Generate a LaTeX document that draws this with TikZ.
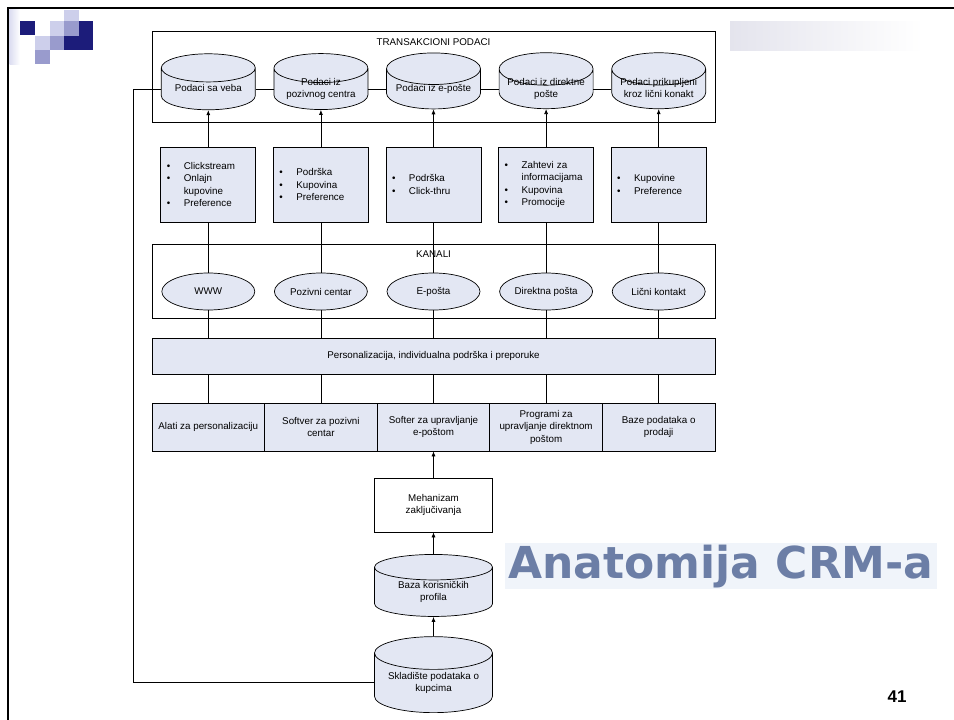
\documentclass[tikz,border=0pt]{standalone}
\usepackage{fontspec}
\setmainfont{Liberation Sans}
\newfontfamily\titlefont{DejaVu Sans}
\usetikzlibrary{shapes.geometric}
\usetikzlibrary{arrows.meta}
\usetikzlibrary{positioning}

\definecolor{boxfill}{RGB}{227,231,243}
\definecolor{navy}{RGB}{28,28,122}
\definecolor{lavmid}{RGB}{153,155,205}
\definecolor{lavlight}{RGB}{205,207,235}
\definecolor{titleblue}{RGB}{108,126,166}
\definecolor{titlebg}{RGB}{240,244,250}
\definecolor{bargray}{RGB}{228,228,237}

\newcommand{\bitem}[1]{\makebox[17pt][l]{\textbullet}#1}
\newcommand{\bcont}[1]{\hspace*{17pt}#1}
\newcommand{\dbtext}[1]{\smash{\raisebox{-2.5pt}{\begin{tabular}{@{}c@{}}#1\end{tabular}}}}

\begin{document}
\begin{tikzpicture}[x=1pt, y=-1pt, line width=0.7pt, node distance=112.6pt,
    every node/.style={font=\fontsize{9.8}{12.5}\selectfont},
    group/.style={rectangle, draw, minimum width=563pt},
    db/.style={cylinder, shape border rotate=90, aspect=0.42, draw, fill=boxfill,
      minimum width=94pt, minimum height=56pt, inner sep=0pt},
    info/.style={rectangle, draw, fill=boxfill, minimum width=95pt, minimum height=75pt,
      text width=83pt, align=left, inner xsep=6pt, inner ysep=4pt},
    chan/.style={ellipse, draw, fill=boxfill, minimum width=93pt, minimum height=37pt, inner sep=1pt},
    cell/.style={rectangle, draw, fill=boxfill, minimum width=112.6pt, minimum height=48pt,
      align=center, inner sep=2pt},
    proc/.style={rectangle, draw, fill=white, minimum width=118pt, minimum height=54pt, align=center},
    flow/.style={-{Latex[length=5pt,width=4pt]}}]
  \useasboundingbox (0,0) rectangle (954,720);

  % slide frame and logo
  \draw[line width=2.5pt] (8,720) -- (8,8) -- (954,8);
  \shade[left color=lavlight!70, right color=white] (9.5,9.5) rectangle (20,64);
  \fill[lavlight] (64,9.5) rectangle (79,21);
  \fill[navy] (20,21) rectangle (35,35);
  \fill[lavlight] (50,21) rectangle (64,36);
  \fill[lavmid] (64,21) rectangle (79,36);
  \fill[navy] (79,21) rectangle (93,50);
  \fill[lavlight] (35,36) rectangle (50,50);
  \fill[lavmid] (50,36) rectangle (64,50);
  \fill[navy] (64,36) rectangle (79,50);
  \fill[lavmid] (35,50) rectangle (50,64);
  \shade[left color=bargray, right color=white] (730,21) rectangle (923,50);

  % transakcioni podaci
  \node[group, minimum height=91pt] (trans) at (433.5,76.5) {};
  \node (transt) at (433.5,42) {TRANSAKCIONI PODACI};
  \node[db] (d1) at (208.3,89) {\dbtext{Podaci sa veba}};
  \node[db] (d2) [right of=d1] {\dbtext{Podaci iz\\pozivnog centra}};
  \node[db] (d3) [right of=d2] {\dbtext{Podaci iz e-pošte}};
  \node[db] (d4) [right of=d3] {\dbtext{Podaci iz direktne\\pošte}};
  \node[db] (d5) [right of=d4] {\dbtext{Podaci prikupljeni\\kroz lični konakt}};

  % sadrzaj
  \node[info] (i1) at (208.3,184.5) {\bitem{Clickstream}\\\bitem{Onlajn}\\\bcont{kupovine}\\\bitem{Preference}};
  \node[info] (i2) [right of=i1] {\bitem{Podrška}\\\bitem{Kupovina}\\\bitem{Preference}};
  \node[info] (i3) [right of=i2] {\bitem{Podrška}\\\bitem{Click-thru}};
  \node[info] (i4) [right of=i3] {\bitem{Zahtevi za}\\\bcont{informacijama}\\\bitem{Kupovina}\\\bitem{Promocije}};
  \node[info] (i5) [right of=i4] {\bitem{Kupovine}\\\bitem{Preference}};

  % kanali
  \node[group, minimum height=74pt] (kan) at (433.5,281) {};
  \node (kant) at (433.5,254) {KANALI};
  \node[chan] (e1) at (208.3,291.5) {WWW};
  \node[chan] (e2) [right of=e1] {Pozivni centar};
  \node[chan] (e3) [right of=e2] {E-pošta};
  \node[chan] (e4) [right of=e3] {Direktna pošta};
  \node[chan] (e5) [right of=e4] {Lični kontakt};

  \node[cell, minimum width=563pt, minimum height=36pt] (bar) at (433.5,356)
    {Personalizacija, individualna podrška i preporuke};

  % alati
  \node[cell] (c1) at (208.3,427) {Alati za personalizaciju};
  \node[cell] (c2) [right of=c1] {Softver za pozivni\\centar};
  \node[cell] (c3) [right of=c2] {Softer za upravljanje\\e-poštom};
  \node[cell] (c4) [right of=c3] {Programi za\\upravljanje direktnom\\poštom};
  \node[cell] (c5) [right of=c4] {Baze podataka o\\prodaji};

  \node[proc] (meh) at (433.5,505) {Mehanizam\\zaključivanja};
  \node[db, aspect=0.36, minimum width=118pt, minimum height=62pt] (baza) at (433.5,592) {\dbtext{Baza korisničkih\\profila}};
  \node[db, aspect=0.36, minimum width=118pt, minimum height=76pt] (skl) at (433.5,683) {\dbtext{Skladište podataka o\\kupcima}};
  \coordinate (ret) at (133,682);

  \foreach \k in {1,...,5} {
    \draw[flow] (i\k) -- (d\k);
    \draw (i\k) -- (e\k);
    \draw (e\k) -- (e\k |- bar.north);
    \draw (bar.south -| c\k) -- (c\k);
  }
  \foreach \a/\b in {d1/d2, d2/d3, d3/d4, d4/d5}
    \draw (\a) -- (\b);
  \draw[flow] (meh) -- (c3);
  \draw[flow] (baza) -- (meh);
  \draw[flow] (skl) -- (baza);
  \draw (d1.west) -| (ret) -- (skl.west |- ret);

  % naslov
  \fill[titlebg] (505,543) rectangle (937,589);
  \node[font=\titlefont\bfseries\fontsize{44}{44}\selectfont, text=titleblue, inner sep=0pt] (ttl) at (721,567)
    {Anatomija CRM-a};
  \node[font=\bfseries\fontsize{17}{17}\selectfont, inner sep=0pt] (pg) at (897,697) {41};
\end{tikzpicture}
\end{document}
